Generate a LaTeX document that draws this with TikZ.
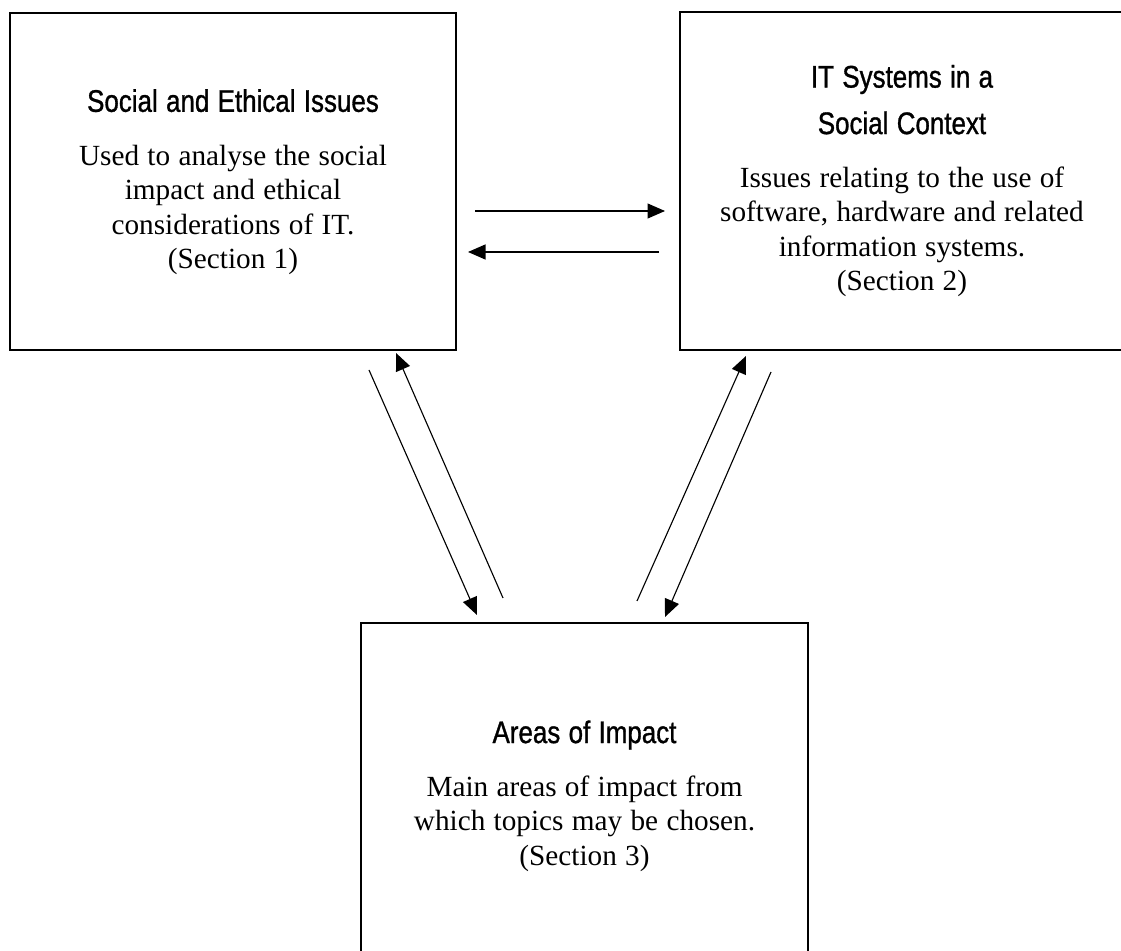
\documentclass[tikz,border=0pt]{standalone}
\usepackage{fontspec}
\setmainfont{Liberation Serif}
\newfontfamily\headfont[FakeStretch=0.83,FakeBold=1]{Liberation Sans}
\usepackage{tikz}
\usetikzlibrary{arrows.meta}
\tikzset{box/.style={draw, line width=0.8pt, inner sep=0pt, align=center, text width=176pt}}
\tikzset{link/.style={-{Triangle[length=7pt,width=6pt]}, line width=0.45pt}}
\tikzset{every picture/.append style={x=0.4pt, y=-0.4pt}}
\newcommand{\boxtitle}[1]{{\headfont\fontsize{12.5}{15.6}\selectfont #1\par}\vspace{7.5pt}}
\newcommand{\boxtext}[1]{{\fontsize{11.7}{13.8}\selectfont #1\par}}

\begin{document}
\begin{tikzpicture}
%three parts of the course and how each one feeds the other two
\useasboundingbox (0,0) rectangle (1121,951);
\clip (0,0) rectangle (1121,951);
\node (social) at (233,182)[box, minimum width=178.4pt, minimum height=134.8pt]{%
\boxtitle{Social and Ethical Issues}%
\boxtext{Used to analyse the social\\ impact and ethical\\ considerations of IT.\\ (Section 1)}};
\node (systems) at (902,181)[box, minimum width=177.6pt, minimum height=135.2pt]{%
\vspace*{3pt}\boxtitle{IT Systems in a\\ Social Context}%
\boxtext{Issues relating to the use of\\ software, hardware and related\\ information systems.\\ (Section 2)}};
\node (impact) at (584.5,796)[box, minimum width=178.8pt, minimum height=138.4pt]{%
\boxtitle{Areas of Impact}%
\boxtext{Main areas of impact from\\ which topics may be chosen.\\ (Section 3)}};
\coordinate (a1) at (475,211);
\coordinate (a2) at (665,211);
\coordinate (b1) at (659,252);
\coordinate (b2) at (468,252);
\coordinate (c1) at (369,370);
\coordinate (c2) at (477,615);
\coordinate (d1) at (503,598);
\coordinate (d2) at (396,353);
\coordinate (e1) at (637,601);
\coordinate (e2) at (746,356);
\coordinate (f1) at (771,372);
\coordinate (f2) at (665,617);
\draw[link] (a1)--(a2);
\draw[link] (b1)--(b2);
\draw[link] (c1)--(c2);
\draw[link] (d1)--(d2);
\draw[link] (e1)--(e2);
\draw[link] (f1)--(f2);
\end{tikzpicture}
\end{document}
